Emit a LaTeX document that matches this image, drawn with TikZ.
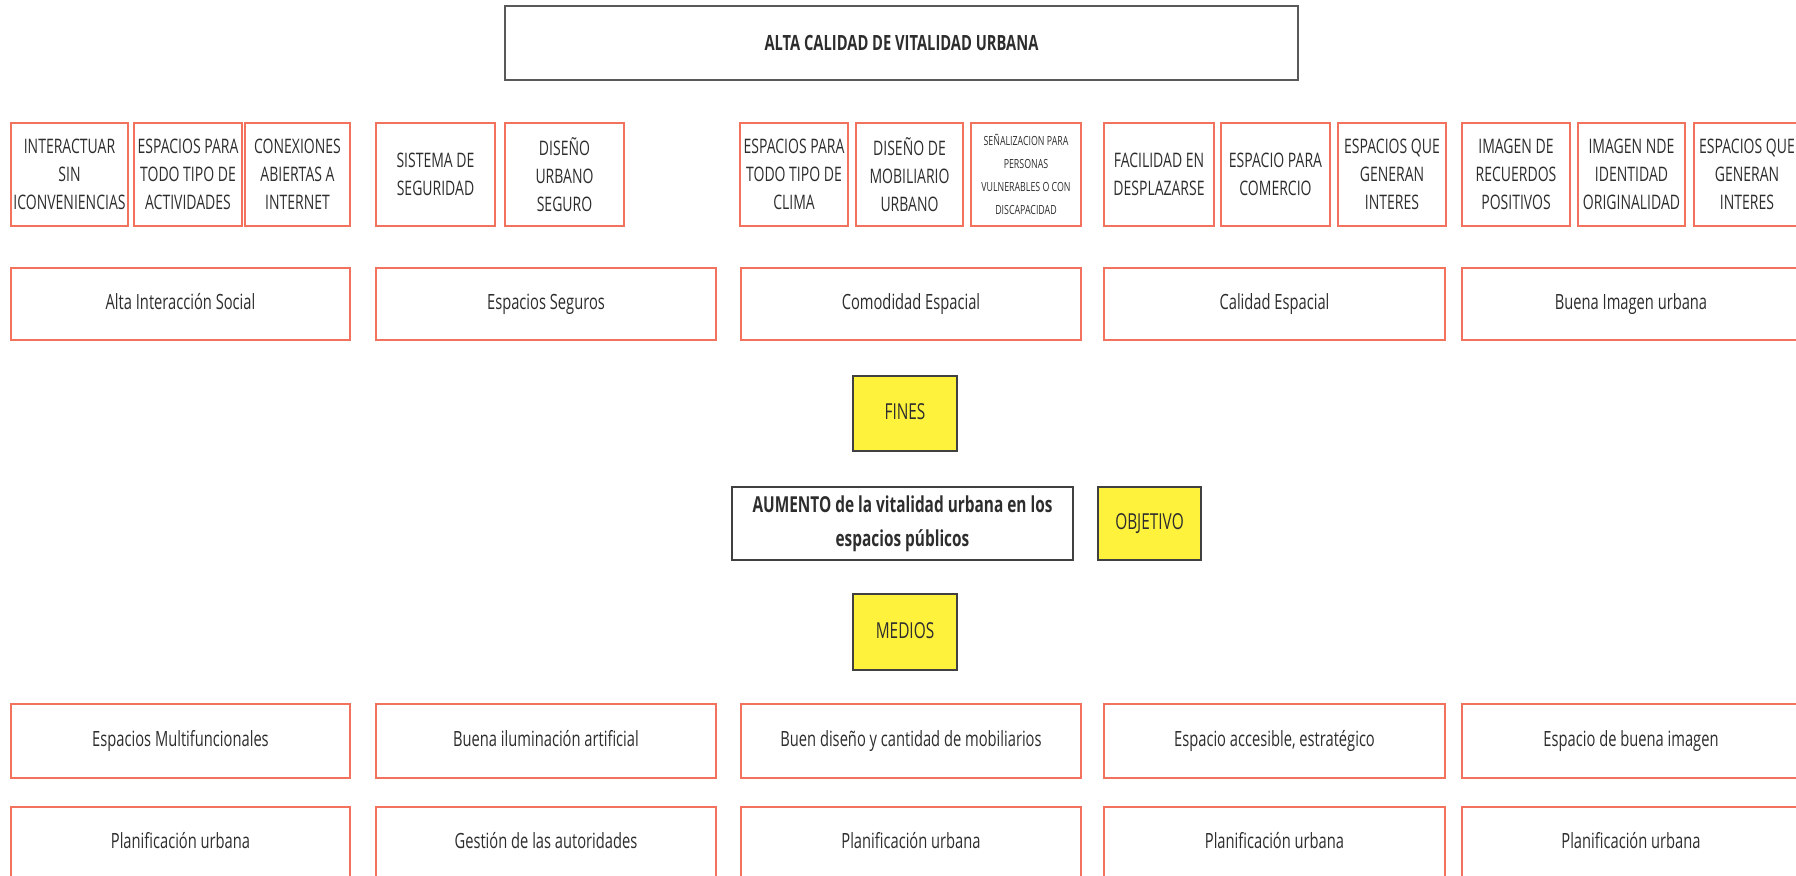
\documentclass[tikz,border=0pt]{standalone}
\usepackage{fontspec}
\setmainfont[FakeStretch=0.7]{Open Sans}
\usepackage{tikz}
\usetikzlibrary{positioning}
\definecolor{borde}{RGB}{242,114,94}
\definecolor{amarillo}{RGB}{255,242,60}
\definecolor{texto}{RGB}{45,45,45}
\tikzset{
  caja/.style={draw=borde, line width=1.3pt, text=texto, align=center, inner sep=0pt},
  causa/.style={caja, minimum height=51.5pt, font=\fontsize{10}{14}\selectfont},
  fin/.style={caja, minimum width=170pt, text height=7.6pt, text depth=2.4pt, font=\fontsize{10.5}{13}\selectfont},
  etiqueta/.style={draw=black!75, line width=1pt, fill=amarillo, text=texto, minimum width=52pt, minimum height=37.5pt, inner sep=0pt, text height=8pt, text depth=2pt, font=\fontsize{11}{13}\selectfont},
}
\begin{document}
\begin{tikzpicture}[x=0.5pt, y=-0.5pt]
	\useasboundingbox (0,0) rectangle (1796,875);
	\clip (0,0) rectangle (1796,875);
	% Fin ultimo
	\node[draw=black!65, line width=1.2pt, text=texto, minimum width=396.5pt, minimum height=37pt, font=\fontsize{10.5}{13}\selectfont\bfseries] (alta) at (901.5,43) {ALTA CALIDAD DE VITALIDAD URBANA};
	
	% Fines indirectos
	\foreach \n/\xa/\xb/\txt in {
		c1/11/128/{INTERACTUAR\\SIN\\ICONVENIENCIAS},
		c2/134/242/{ESPACIOS PARA\\TODO TIPO DE\\ACTIVIDADES},
		c3/245/350/{CONEXIONES\\ABIERTAS A\\INTERNET},
		c4/376/495/{SISTEMA DE\\SEGURIDAD},
		c5/505/624/{DISEÑO\\URBANO\\SEGURO},
		c6/740/848/{ESPACIOS PARA\\TODO TIPO DE\\CLIMA},
		c7/856/963/{DISEÑO DE\\MOBILIARIO\\URBANO},
		c9/1104/1214/{FACILIDAD EN\\DESPLAZARSE},
		c10/1221/1330/{ESPACIO PARA\\COMERCIO},
		c11/1338/1446/{ESPACIOS QUE\\GENERAN\\INTERES},
		c12/1462/1570/{IMAGEN DE\\RECUERDOS\\POSITIVOS},
		c13/1578/1685/{IMAGEN NDE\\IDENTIDAD\\ORIGINALIDAD},
		c14/1694/1800/{ESPACIOS QUE\\GENERAN\\INTERES}}
	{
		\pgfmathsetmacro{\w}{(\xb-\xa)/2}
		\node[causa, minimum width=\w pt] (\n) at ({(\xa+\xb)/2},174.5) {\txt};
	}
	\node[causa, minimum width=55pt, font=\fontsize{6.3}{11.5}\selectfont] (c8) at (1026,174.5) {SEÑALIZACION PARA\\PERSONAS\\VULNERABLES O CON\\DISCAPACIDAD};
	
	% Fines directos
	\foreach \n/\xa/\xb/\txt in {
		f1/11/350/{Alta Interacción Social},
		f2/376/716/{Espacios Seguros},
		f3/741/1081/{Comodidad Espacial},
		f4/1104/1445/{Calidad Espacial},
		f5/1462/1800/{Buena Imagen urbana}}
	{
		\pgfmathsetmacro{\w}{(\xb-\xa)/2}
		\node[fin, minimum width=\w pt, minimum height=36pt] (\n) at ({(\xa+\xb)/2},304) {\txt};
	}
	
	% Objetivo
	\node[etiqueta] (fines) at (905,413.5) {FINES};
	\node[draw=black!75, line width=1pt, text=texto, align=center, minimum width=170.5pt, minimum height=36.5pt, inner sep=0pt, font=\fontsize{11}{17}\selectfont\bfseries] (aumento) at (902.5,523.5) {AUMENTO de la vitalidad urbana en los\\espacios públicos};
	\node[etiqueta, minimum width=51.5pt, minimum height=36.5pt, right=11.5pt of aumento] (objetivo) {OBJETIVO};
	\node[etiqueta, minimum height=38pt] (medios) at (905,632) {MEDIOS};
	
	% Medios
	\foreach \n/\xa/\xb/\txt/\ya/\yb in {
		m1/11/350/{Espacios Multifuncionales}/704/778,
		m2/376/716/{Buena iluminación artificial}/704/778,
		m3/741/1081/{Buen diseño y cantidad de mobiliarios}/704/778,
		m4/1104/1445/{Espacio accesible, estratégico}/704/778,
		m5/1462/1800/{Espacio de buena imagen}/704/778,
		p1/11/350/{Planificación urbana}/807/880,
		p2/376/716/{Gestión de las autoridades}/807/880,
		p3/741/1081/{Planificación urbana}/807/880,
		p4/1104/1445/{Planificación urbana}/807/880,
		p5/1462/1800/{Planificación urbana}/807/880}
	{
		\pgfmathsetmacro{\w}{(\xb-\xa)/2}
		\pgfmathsetmacro{\h}{(\yb-\ya)/2}
		\node[fin, minimum width=\w pt, minimum height=\h pt] (\n) at ({(\xa+\xb)/2},{(\ya+\yb)/2}) {\txt};
	}
	
\end{tikzpicture}
\end{document}
